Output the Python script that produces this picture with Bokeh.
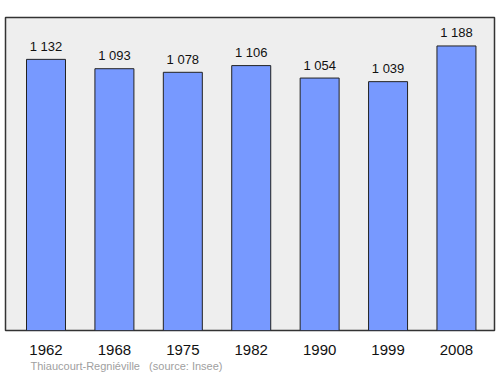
from bokeh.plotting import figure
from bokeh.models import ColumnDataSource, Range1d, Title
from bokeh.core.properties import value
from bokeh.embed import file_html
from bokeh.resources import INLINE

years = ["1962", "1968", "1975", "1982", "1990", "1999", "2008"]
population = [1132, 1093, 1078, 1106, 1054, 1039, 1188]
labels = ["1 132", "1 093", "1 078", "1 106", "1 054", "1 039", "1 188"]
footer = "Thiaucourt-Regniéville\u00a0\u00a0\u00a0(source: Insee)"

xs = list(range(len(years)))
src = ColumnDataSource(dict(x=xs, top=population, label=labels))

p = figure(width=500, height=374, output_backend="svg", toolbar_location=None,
           x_range=Range1d(-0.592, 6.556), y_range=Range1d(0, max(population) * 1.1),
           min_border_left=5, min_border_right=6, min_border_top=17, min_border_bottom=44)

p.background_fill_color = "#eeeeee"
p.border_fill_color = "white"
p.outline_line_color = "#333333"
p.outline_line_width = 1.5
p.xgrid.visible = False
p.ygrid.visible = False
p.yaxis.visible = False

p.vbar(x="x", top="top", width=0.57, bottom=0, source=src,
       fill_color="#7799ff", line_color="#222222", line_width=1)

p.text(x="x", y="top", text="label", source=src, text_align="center",
       text_baseline="alphabetic", y_offset=-13, text_font=value("Liberation Sans"),
       text_font_size="13px", text_color="#111111")

p.xaxis.ticker = xs
p.xaxis.major_label_overrides = {i: y for i, y in zip(xs, years)}
p.xaxis.major_tick_line_color = None
p.xaxis.minor_tick_line_color = None
p.xaxis.axis_line_color = None
p.xaxis.major_label_standoff = 8
p.xaxis.major_label_text_font = "Liberation Sans"
p.xaxis.major_label_text_font_size = "15px"
p.xaxis.major_label_text_color = "#111111"

p.add_layout(Title(text=footer, align="left", offset=25, standoff=0,
                   text_font="Liberation Sans", text_font_size="11px",
                   text_font_style="normal", text_color="#a0a0a0"), "below")

open("out.html", "w").write(file_html(p, INLINE))
